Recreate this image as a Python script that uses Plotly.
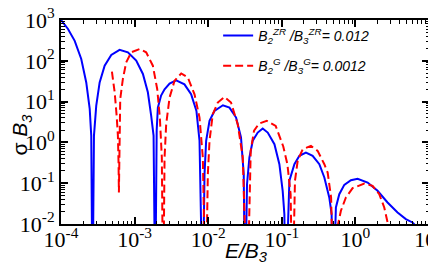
import plotly.graph_objects as go

# ---- data (E/B3 , sigma*B3) ----
blue_name = "B<sub>2</sub><sup>ZR</sup> /B<sub>3</sub><sup>ZR</sup>= 0.012"
blue_E = [1.0e-4, 1.245e-4, 1.535e-4, 1.884e-4, 2.203e-4, 2.455e-4, 2.576e-4, 2.68e-4,
          2.805e-4, 3.013e-4, 3.35e-4, 3.917e-4, 4.82e-4, 6.25e-4, 8.11e-4, 1.052e-3,
          1.297e-3, 1.514e-3, 1.679e-3, 1.811e-3, 1.905e-3,
          1.995e-3, 2.07e-3, 2.29e-3, 2.553e-3, 2.985e-3, 3.67e-3, 4.76e-3, 5.86e-3,
          6.92e-3, 7.62e-3, 8.02e-3, 8.41e-3,
          8.91e-3, 9.38e-3, 1.042e-2, 1.216e-2, 1.585e-2, 1.945e-2, 2.393e-2, 2.79e-2,
          3.04e-2, 3.16e-2,
          3.37e-2, 3.63e-2, 4.03e-2, 4.71e-2, 5.50e-2, 6.44e-2, 7.94e-2, 9.27e-2,
          0.1028, 0.1084, 0.1122,
          0.1268, 0.1483, 0.1734, 0.2128, 0.2624, 0.3236, 0.3784, 0.4416, 0.4753, 0.4955,
          0.5433, 0.6039, 0.7063, 0.869, 1.072, 1.466, 2.0, 2.735, 3.741, 4.842, 5.97, 7.08]
blue_S = [1000, 603, 309, 111, 29.5, 6.61, 1.47, 1e-4,
          1.47, 7.94, 29.5, 75.9, 139, 185, 161, 101,
          47.6, 16.9, 4.54, 1.47, 1e-4,
          2.0, 7.08, 14.1, 19.95, 27.5, 33.1, 26.5, 15.1,
          5.89, 1.10, 0.066, 1e-4,
          0.166, 1.10, 3.39, 5.89, 8.13, 7.13, 4.06, 1.32,
          0.166, 1e-4,
          0.0955, 0.427, 1.10, 1.74, 2.19, 1.74, 0.902, 0.292,
          0.0646, 0.0174, 1e-4,
          0.115, 0.292, 0.468, 0.562, 0.468, 0.292, 0.138, 0.0447, 0.0174, 1e-4,
          0.0254, 0.0537, 0.0912, 0.118, 0.128, 0.104, 0.0652, 0.0337, 0.0192, 0.0132, 0.0109, 0.0079]

red_name = "B<sub>2</sub><sup>G</sup> /B<sub>3</sub><sup>G</sup>= 0.0012"
red_E = [4.92e-4, 5.36e-4, 5.70e-4, 5.93e-4, 6.05e-4, 6.12e-4, 6.24e-4, 6.38e-4,
         6.93e-4, 7.69e-4, 8.99e-4, 1.17e-3, 1.436e-3, 1.770e-3, 2.028e-3, 2.203e-3,
         2.344e-3, 2.443e-3,
         2.553e-3, 2.685e-3, 2.985e-3, 3.49e-3, 4.30e-3, 5.28e-3, 6.52e-3, 7.62e-3,
         8.45e-3, 9.23e-3,
         9.89e-3, 1.042e-2, 1.153e-2, 1.349e-2, 1.663e-2, 2.042e-2, 2.523e-2, 2.951e-2,
         3.39e-2,
         3.784e-2, 4.198e-2, 4.898e-2, 6.24e-2, 8.26e-2, 0.1047, 0.1191, 0.1318, 0.1393,
         0.151, 0.1644, 0.1923, 0.2489, 0.3069, 0.3784, 0.4198, 0.4677, 0.5058, 0.5598,
         0.582, 0.6353, 0.743, 0.9162, 1.321, 1.714, 2.109, 2.466, 2.735, 2.884]
red_S = [54.2, 16.9, 4.54, 1.47, 0.316, 0.0589, 0.741, 11.6,
         36.0, 91.6, 161, 195, 161, 75.9, 20.4, 4.06,
         0.427, 1e-4,
         0.427, 2.75, 12.6, 32.4, 49.0, 38.9, 15.1, 4.07,
         0.427, 1e-4,
         0.166, 1.10, 4.90, 9.46, 13.0, 9.46, 2.75, 0.427,
         1e-4,
         0.631, 1.95, 2.88, 3.39, 2.54, 0.794, 0.292, 0.0537, 1e-4,
         0.115, 0.355, 0.676, 0.822, 0.621, 0.292, 0.182, 0.0447, 1e-4, 1e-4,
         0.01, 0.0211, 0.0447, 0.0755, 0.0984, 0.0863, 0.0537, 0.0254, 0.011, 0.0063]

x_tickvals = [1e-4, 1e-3, 1e-2, 1e-1, 1e0, 1e1]
x_ticktext = ["10<sup>-4</sup>", "10<sup>-3</sup>", "10<sup>-2</sup>",
              "10<sup>-1</sup>", "10<sup>0</sup>", "10<sup>1</sup>"]
y_tickvals = [1e-2, 1e-1, 1e0, 1e1, 1e2, 1e3]
y_ticktext = ["10<sup>-2</sup>", "10<sup>-1</sup>", "10<sup>0</sup>",
              "10<sup>1</sup>", "10<sup>2</sup>", "10<sup>3</sup>"]

x_title = "E/B<sub>3</sub>"
y_title = "σ <i>B<sub>3</sub></i>"

x_minor = [m * 10.0 ** k for k in range(-4, 1) for m in range(2, 10)]
y_minor = [m * 10.0 ** k for k in range(-2, 3) for m in range(2, 10)]

fig = go.Figure()
fig.add_trace(go.Scatter(x=blue_E, y=blue_S, mode="lines", name=blue_name,
                         legendgroup="a",
                         line=dict(color="#0000ff", width=2)))
fig.add_trace(go.Scatter(x=red_E, y=red_S, mode="lines", name=red_name,
                         legendgroup="b",
                         line=dict(color="#ff0000", width=2, dash="8px,4px")))

axis_common = dict(
    type="log", showgrid=False, zeroline=False, automargin=False,
    showline=True, linecolor="black", linewidth=2, mirror="ticks",
    ticks="inside", ticklen=7, tickwidth=1.5, tickcolor="black",
    tickmode="array", ticklabeloverflow="allow",
    tickfont=dict(family="Liberation Serif", size=22, color="black"),
)

fig.update_xaxes(
    **axis_common,
    range=[-4, 1],
    tickvals=x_tickvals, ticktext=x_ticktext,
    ticklabelstandoff=-5,
    minor=dict(tickmode="array", tickvals=x_minor, ticks="inside", ticklen=3.5,
               tickwidth=1, tickcolor="black", showgrid=False),
)
fig.update_yaxes(
    **axis_common,
    range=[-2, 3],
    tickvals=y_tickvals, ticktext=y_ticktext,
    minor=dict(tickmode="array", tickvals=y_minor, ticks="inside", ticklen=3.5,
               tickwidth=1, tickcolor="black", showgrid=False),
)

fig.update_layout(
    width=436, height=270,
    margin=dict(l=53, r=15, t=12, b=54, autoexpand=False),
    paper_bgcolor="white", plot_bgcolor="white",
    showlegend=True,
    legend=dict(x=0.427, y=1.0, xanchor="left", yanchor="top",
                bgcolor="rgba(0,0,0,0)", borderwidth=0,
                traceorder="grouped", tracegroupgap=9,
                font=dict(family="Liberation Sans", size=14, style="italic", color="black")),
    annotations=[
        dict(text=x_title, xref="paper", yref="paper", x=0.503, y=-0.135,
             xanchor="center", yanchor="middle", showarrow=False,
             font=dict(family="Liberation Sans", size=21, style="italic", color="black")),
        dict(text=y_title, xref="paper", yref="paper", x=-0.109, y=0.438,
             xanchor="center", yanchor="middle", showarrow=False, textangle=-90,
             font=dict(family="Liberation Sans", size=21, color="black")),
    ],
)

fig.write_html("out.html")
